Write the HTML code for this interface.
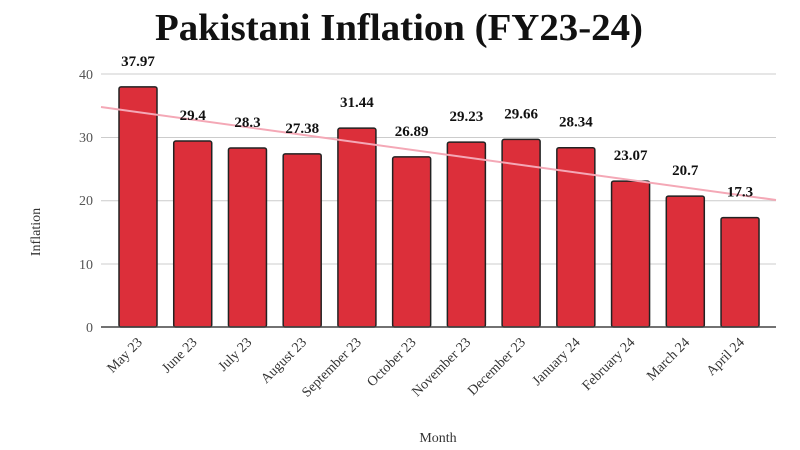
<!DOCTYPE html>
<html><head><meta charset="utf-8"><style>
html,body{margin:0;padding:0;background:#fff;}
svg{display:block;font-family:"Liberation Serif",serif;}
</style></head><body>
<svg width="800" height="450" viewBox="0 0 800 450" xmlns="http://www.w3.org/2000/svg">
<text x="399" y="40" text-anchor="middle" font-size="38" font-weight="bold" textLength="488" lengthAdjust="spacingAndGlyphs" fill="#111">Pakistani Inflation (FY23-24)</text>
<g stroke="#cccccc" stroke-width="1">
<line x1="101" x2="776" y1="74" y2="74"/>
<line x1="101" x2="776" y1="137.5" y2="137.5"/>
<line x1="101" x2="776" y1="200.7" y2="200.7"/>
<line x1="101" x2="776" y1="264" y2="264"/>
</g>
<g font-size="14" fill="#555" text-anchor="end">
<text x="93" y="79">40</text><text x="93" y="142">30</text><text x="93" y="205">20</text><text x="93" y="269">10</text><text x="93" y="332">0</text>
</g>
<text transform="translate(40,232) rotate(-90)" text-anchor="middle" font-size="14" fill="#333">Inflation</text>
<text x="438" y="442" text-anchor="middle" font-size="14" fill="#333">Month</text>
<g id="bars" fill="#dc2f3a" stroke="#222" stroke-width="1.5"></g>
<line x1="101" y1="107" x2="776" y2="200" stroke="#f4a8b6" stroke-width="2"/>
<line x1="101" x2="776" y1="327" y2="327" stroke="#444" stroke-width="1.5"/>
<g id="vals" font-size="15" font-weight="bold" fill="#111" text-anchor="middle"></g>
<g id="xl" font-size="14" fill="#333" text-anchor="end"></g>
</svg>
<script>
var d=[["May 23",37.97],["June 23",29.4],["July 23",28.3],["August 23",27.38],["September 23",31.44],["October 23",26.89],["November 23",29.23],["December 23",29.66],["January 24",28.34],["February 24",23.07],["March 24",20.7],["April 24",17.3]];
var ns="http://www.w3.org/2000/svg",b=document.getElementById("bars"),v=document.getElementById("vals"),x=document.getElementById("xl");
d.forEach(function(e,i){var l=119+i*54.73,y=327-e[1]*6.325;
var r=document.createElementNS(ns,"rect");r.setAttribute("x",l);r.setAttribute("y",y);r.setAttribute("width",38);r.setAttribute("height",327-y);r.setAttribute("rx",2);b.appendChild(r);
var t=document.createElementNS(ns,"text");t.setAttribute("x",l+19);t.setAttribute("y",y-21);t.textContent=e[1];v.appendChild(t);
var c=l+19,t2=document.createElementNS(ns,"text");t2.setAttribute("transform","translate("+(c+5)+",343) rotate(-45)");t2.textContent=e[0];x.appendChild(t2);});
</script>
</body></html>
